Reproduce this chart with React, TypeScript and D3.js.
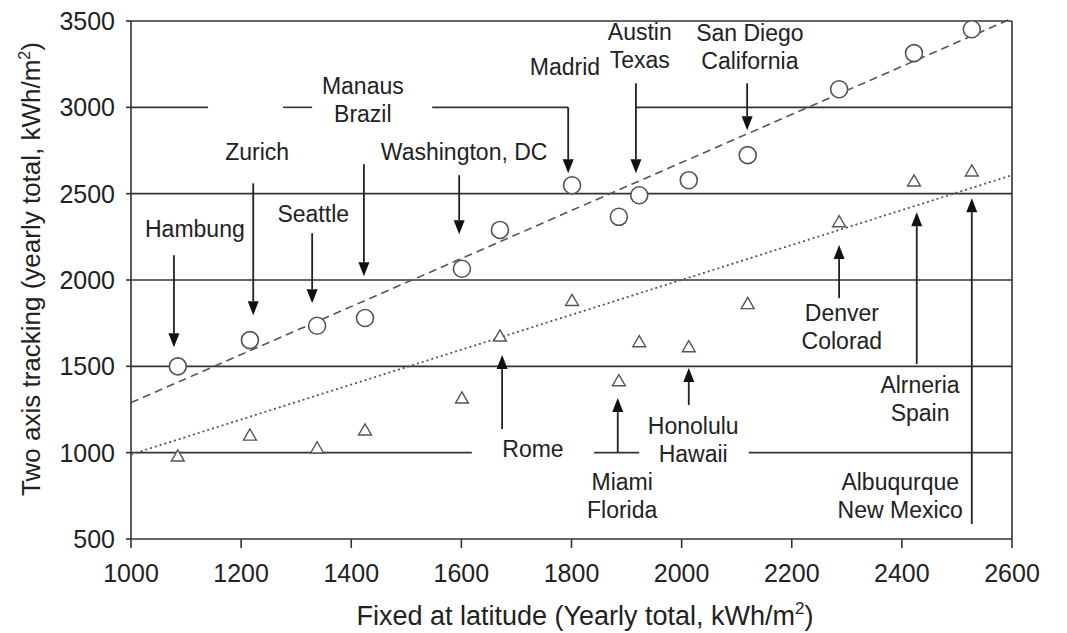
import React from 'react';
import * as d3 from 'd3';

// fixed-at-latitude totals (x) and the two-axis tracking totals for the two sets of sites
const fixedAtLatitude = [1085, 1216, 1338, 1425, 1601, 1670, 1801, 1886, 1923, 2013, 2120, 2286, 2422, 2527];
const circleValues = [1500, 1652, 1735, 1780, 2065, 2290, 2549, 2366, 2491, 2578, 2723, 3105, 3314, 3452];
const triangleValues = [973, 1094, 1020, 1124, 1309, 1668, 1874, 1409, 1635, 1606, 1856, 2330, 2566, 2624];

// fitted trend lines, as [x, y] end points
const dashedTrend = [[1000, 1290], [2600, 3515]];
const dottedTrend = [[1000, 990], [2600, 2607]];

const xTicks = [1000, 1200, 1400, 1600, 1800, 2000, 2200, 2400, 2600];
const yTicks = [500, 1000, 1500, 2000, 2500, 3000, 3500];

// horizontal rules with the gaps left for labels: [y, [from, to], ...]
const gridRules: [number, number[][]][] = [
  [1000, [[1000, 1619], [1841, 1923], [2122, 2600]]],
  [1500, [[1000, 2600]]],
  [2000, [[1000, 2600]]],
  [2500, [[1000, 2600]]],
  [3000, [[1000, 1140], [1276, 1329], [1547, 1794], [1917, 2600]]],
  [3500, [[1000, 2600]]],
];

// arrows: x, tail y, tip y (in data units)
const arrows = [
  [1078, 2144, 1611],
  [1222, 2560, 1796],
  [1329, 2271, 1866],
  [1423, 2670, 2022],
  [1596, 2607, 2265],
  [1794, 3000, 2618],
  [1917, 3139, 2618],
  [2119, 3139, 2867],
  [2286, 1895, 2202],
  [2427, 1513, 2393],
  [2527, 587, 2474],
  [1674, 1137, 1565],
  [1884, 1000, 1316],
  [2013, 1276, 1490],
];

// site labels: text lines, centre x, baseline of first line
const siteNames = [
  ['Hambung'], ['Zurich'], ['Seattle'], ['Manaus', 'Brazil'], ['Washington, DC'], ['Madrid'],
  ['Austin', 'Texas'], ['San Diego', 'California'], ['Denver', 'Colorad'], ['Alrneria', 'Spain'],
  ['Albuqurque', 'New Mexico'], ['Rome'], ['Miami', 'Florida'], ['Honolulu', 'Hawaii'],
];
const siteLabelAt = [
  [1116, 2248], [1229, 2694], [1331, 2335], [1421, 3076], [1605, 2694], [1788, 3186],
  [1924, 3388], [2124, 3382], [2291, 1762], [2433, 1345], [2397, 784], [1730, 975],
  [1892, 784], [2021, 1108],
];

const W = 1067;
const H = 633;
const FONT = '"Liberation Sans", Arial, sans-serif';
const INK = '#222';

export default function App() {
  const x = d3.scaleLinear().domain([1000, 2600]).range([131, 1012]);
  const y = d3.scaleLinear().domain([500, 3500]).range([539, 21]);

  const line = d3.line<number[]>().x((d) => x(d[0])).y((d) => y(d[1]));
  const tri = d3.symbol().type(d3.symbolTriangle).size(72);

  return (
    <svg width={W} height={H} style={{ position: 'absolute', left: 0, top: 0, background: '#fff' }} fontFamily={FONT}>
      {/* grid rules */}
      {gridRules.map(([v, segs]) =>
        segs.map((s, i) => (
          <line key={v + '-' + i} x1={x(s[0])} x2={x(s[1])} y1={y(v)} y2={y(v)} stroke="#333" strokeWidth={1.6} />
        ))
      )}

      {/* frame */}
      <line x1={x(1000)} x2={x(2600)} y1={y(500)} y2={y(500)} stroke="#333" strokeWidth={1.6} />
      <line x1={x(1000)} x2={x(1000)} y1={y(500)} y2={y(3500)} stroke="#333" strokeWidth={1.6} />
      <line x1={x(2600)} x2={x(2600)} y1={y(500)} y2={y(3500)} stroke="#333" strokeWidth={1.6} />

      {/* ticks */}
      {yTicks.map((t) => (
        <g key={'y' + t}>
          <line x1={x(1000) - 5} x2={x(1000)} y1={y(t)} y2={y(t)} stroke="#333" strokeWidth={1.6} />
          <text x={x(1000) - 16} y={y(t)} dy="0.36em" textAnchor="end" fontSize={25} fill={INK}>{t}</text>
        </g>
      ))}
      {xTicks.map((t) => (
        <g key={'x' + t}>
          <line x1={x(t)} x2={x(t)} y1={y(500)} y2={y(500) + 9} stroke="#333" strokeWidth={1.6} />
          <text x={x(t)} y={582} textAnchor="middle" fontSize={25} fill={INK}>{t}</text>
        </g>
      ))}

      {/* axis titles */}
      <text x={585} y={625} textAnchor="middle" fontSize={27} fill={INK}>
        Fixed at latitude (Yearly total, kWh/m<tspan dy={-11} fontSize={17}>2</tspan><tspan dy={11}>)</tspan>
      </text>
      <text transform={`translate(40, 269) rotate(-90)`} textAnchor="middle" fontSize={26} fill={INK}>
        Two axis tracking (yearly total, kWh/m<tspan dy={-10} fontSize={16}>2</tspan><tspan dy={10}>)</tspan>
      </text>

      {/* trend lines */}
      <path d={line(dashedTrend) || ''} fill="none" stroke="#555" strokeWidth={1.6} strokeDasharray="8 5" />
      <path d={line(dottedTrend) || ''} fill="none" stroke="#555" strokeWidth={1.8} strokeDasharray="2 3" />

      {/* points */}
      {fixedAtLatitude.map((fx, i) => (
        <circle key={'c' + i} cx={x(fx)} cy={y(circleValues[i])} r={8.5} fill="#fff" stroke="#555" strokeWidth={1.6} />
      ))}
      {fixedAtLatitude.map((fx, i) => (
        <path key={'t' + i} d={tri() || ''} transform={`translate(${x(fx)},${y(triangleValues[i])})`} fill="#fff" stroke="#555" strokeWidth={1.4} />
      ))}

      {/* arrows */}
      {arrows.map(([ax, from, to], i) => {
        const px = x(ax);
        const y1 = y(from);
        const y2 = y(to);
        const dir = y2 > y1 ? 1 : -1;
        const baseY = y2 - dir * 14;
        return (
          <g key={'a' + i}>
            <line x1={px} x2={px} y1={y1} y2={baseY} stroke="#222" strokeWidth={1.8} />
            <polygon points={`${px - 5.5},${baseY} ${px + 5.5},${baseY} ${px},${y2}`} fill="#111" />
          </g>
        );
      })}

      {/* labels */}
      {siteNames.map((lines, i) => (
        <text key={'l' + i} x={x(siteLabelAt[i][0])} y={y(siteLabelAt[i][1])} textAnchor="middle" fontSize={23} fill={INK}>
          {lines.map((s, j) => (
            <tspan key={j} x={x(siteLabelAt[i][0])} dy={j === 0 ? 0 : 28}>{s}</tspan>
          ))}
        </text>
      ))}
    </svg>
  );
}
